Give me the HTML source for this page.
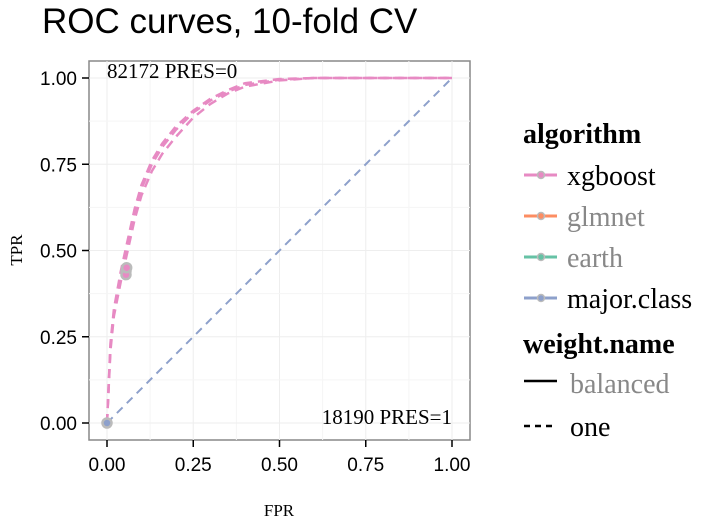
<!DOCTYPE html>
<html><head><meta charset="utf-8"><style>
body{margin:0;background:#fff;width:703px;height:524px;overflow:hidden}
text{font-family:"Liberation Serif",serif}
</style></head><body>
<svg width="703" height="524">
<text x="42" y="33" font-size="35" style="font-family:'Liberation Sans',sans-serif">ROC curves, 10-fold CV</text>
<rect x="89" y="61" width="381" height="379" fill="#fff" stroke="#888" stroke-width="1.5"/>
<g id="grid"></g><g id="axes"></g><g id="series"></g>
<text x="107" y="78" font-size="21">82172 PRES=0</text>
<text x="452" y="424" font-size="21" text-anchor="end">18190 PRES=1</text>
<text x="279" y="516" font-size="17" text-anchor="middle">FPR</text>
<text x="22" y="250" font-size="17" text-anchor="middle" transform="rotate(-90 22 250)">TPR</text>
<g>
<text x="523" y="143" font-size="28" font-weight="bold">algorithm</text>
<g><line x1="524" y1="175" x2="557" y2="175" stroke="#e78ac3" stroke-width="3"/><circle cx="541" cy="175" r="3.5" fill="#e78ac3" stroke="#bbb" stroke-width="1.5"/><text x="567" y="185" font-size="28">xgboost</text></g>
<g><line x1="524" y1="216" x2="557" y2="216" stroke="#fc8d62" stroke-width="3"/><circle cx="541" cy="216" r="3.5" fill="#fc8d62" stroke="#bbb" stroke-width="1.5"/><text x="567" y="226" font-size="28" fill="#888">glmnet</text></g>
<g><line x1="524" y1="257" x2="557" y2="257" stroke="#66c2a5" stroke-width="3"/><circle cx="541" cy="257" r="3.5" fill="#66c2a5" stroke="#bbb" stroke-width="1.5"/><text x="567" y="267" font-size="28" fill="#888">earth</text></g>
<g><line x1="524" y1="298" x2="557" y2="298" stroke="#8da0cb" stroke-width="3"/><circle cx="541" cy="298" r="3.5" fill="#8da0cb" stroke="#bbb" stroke-width="1.5"/><text x="567" y="308" font-size="28">major.class</text></g>
<text x="523" y="353" font-size="28" font-weight="bold">weight.name</text>
<g><line x1="524" y1="381" x2="557" y2="381" stroke="#000" stroke-width="2.5"/><text x="570" y="393" font-size="28" fill="#888">balanced</text></g>
<g><line x1="524" y1="426" x2="557" y2="426" stroke="#000" stroke-width="2.5" stroke-dasharray="6,5"/><text x="570" y="436" font-size="28">one</text></g>
</g>
</svg>
<script>
const xTicks=[0,0.25,0.5,0.75,1];
const yTicks=[0,0.25,0.5,0.75,1];
const tickLabels=["0.00","0.25","0.50","0.75","1.00"];
const foldFpr=[0,0.01,0.02,0.04,0.06,0.08,0.1,0.13,0.16,0.2,0.25,0.3,0.35,0.4,0.5,0.6,1];
const fold1Tpr=[0,0.22,0.32,0.43,0.52,0.61,0.68,0.75,0.8,0.85,0.9,0.935,0.96,0.98,0.995,1,1];
const fold2Tpr=[0,0.21,0.31,0.41,0.5,0.59,0.66,0.73,0.78,0.83,0.885,0.925,0.955,0.975,0.993,1,1];
const fold3Tpr=[0,0.23,0.33,0.44,0.53,0.62,0.69,0.76,0.81,0.86,0.905,0.94,0.965,0.985,0.997,1,1];
const majorFpr=[0,1];
const majorTpr=[0,1];
const pointFpr=[0.055,0.055,0.057,0];
const pointTpr=[0.44,0.43,0.45,0];
const X=v=>107+v*345, Y=v=>423-v*345;
const NS="http://www.w3.org/2000/svg";
const mk=(p,t,a)=>{const e=document.createElementNS(NS,t);for(const k in a)e.setAttribute(k,a[k]);document.getElementById(p).appendChild(e);return e;};
xTicks.forEach((v,i)=>{
 let g=mk('grid','line',{x1:X(v),x2:X(v),y1:61,y2:440,stroke:'#eee'});
 
 
 if(i<4){let h=mk('grid','line',{x1:X(v+0.125),x2:X(v+0.125),y1:61,y2:440,stroke:'#f5f5f5'});
 
 }
 let t=mk('axes','line',{x1:X(v),x2:X(v),y1:440,y2:447,stroke:'#000','stroke-width':1.5});
 
 
 let l=mk('axes','text',{x:X(v),y:471,'font-size':19,'text-anchor':'middle',style:"font-family:'Liberation Sans',sans-serif"});
 l.textContent=tickLabels[i];
 
 
});
yTicks.forEach((v,i)=>{
 let g=mk('grid','line',{x1:89,x2:470,y1:Y(v),y2:Y(v),stroke:'#eee'});
 
 
 if(i<4){let h=mk('grid','line',{x1:89,x2:470,y1:Y(v+0.125),y2:Y(v+0.125),stroke:'#f5f5f5'});
 
 }
 let t=mk('axes','line',{x1:82,x2:89,y1:Y(v),y2:Y(v),stroke:'#000','stroke-width':1.5});
 
 
 let l=mk('axes','text',{x:77,y:Y(v)+7,'font-size':19,'text-anchor':'end',style:"font-family:'Liberation Sans',sans-serif"});
 l.textContent=tickLabels[i];
 
 
});
const path=(xs,ys)=>xs.map((x,i)=>(i?'L':'M')+X(x)+','+Y(ys[i])).join('');
[fold1Tpr,fold2Tpr,fold3Tpr].forEach(t=>{
 let p=mk('series','path',{d:path(foldFpr,t),fill:'none',stroke:'#e78ac3','stroke-width':2.5,'stroke-dasharray':'9,6'});
 
 
});
let m=mk('series','path',{d:path(majorFpr,majorTpr),fill:'none',stroke:'#8da0cb','stroke-width':2,'stroke-dasharray':'8,6'});


pointFpr.forEach((x,i)=>{
 let c=mk('series','circle',{cx:X(x),cy:Y(pointTpr[i]),r:4.5,fill:i==3?'#8da0cb':'#e78ac3',stroke:'#bbb','stroke-width':2.5});
 
 
});
</script>
</body></html>
